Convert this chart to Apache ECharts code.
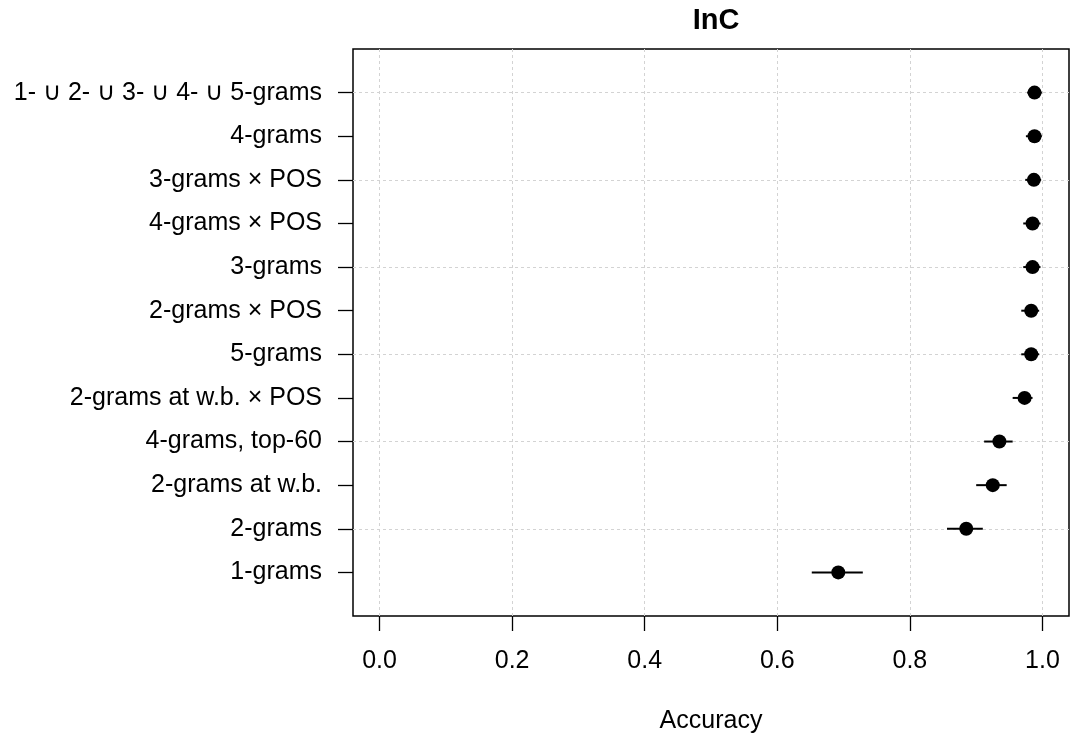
<!DOCTYPE html>
<html>
<head>
<meta charset="utf-8">
<script src="https://cdn.jsdelivr.net/npm/echarts@6/dist/echarts.min.js"></script>
<style>
  html, body { margin: 0; padding: 0; background: #fff; }
  #chart { width: 1071px; height: 735px; }
</style>
</head>
<body>
<div id="chart"></div>
<script>
// Feature sets, listed bottom to top
const featureSets = [
  '1-grams',
  '2-grams',
  '2-grams at w.b.',
  '4-grams, top-60',
  '2-grams at w.b. × POS',
  '5-grams',
  '2-grams × POS',
  '3-grams',
  '4-grams × POS',
  '3-grams × POS',
  '4-grams',
  '1- ∪ 2- ∪ 3- ∪ 4- ∪ 5-grams'
];
// Mean accuracy and interval bounds per feature set
const accuracy = [0.692, 0.885, 0.925, 0.935, 0.973, 0.983, 0.983, 0.985, 0.985, 0.987, 0.988, 0.988];
const lower    = [0.652, 0.856, 0.900, 0.912, 0.955, 0.968, 0.968, 0.971, 0.971, 0.974, 0.975, 0.977];
const upper    = [0.729, 0.910, 0.946, 0.955, 0.985, 0.995, 0.995, 0.997, 0.997, 0.998, 0.999, 0.999];
const xTicks = [0, 0.2, 0.4, 0.6, 0.8, 1.0];
const yGrid = [2, 4, 6, 8, 10, 12];

const FONT = "'Liberation Sans', Arial, Helvetica, sans-serif";
const positions = featureSets.map((_, i) => i + 1);

const chart = echarts.init(document.getElementById('chart'), null, { renderer: 'canvas' });

const gridLine = { show: true, lineStyle: { color: '#d3d3d3', width: 1, type: [3, 3] } };

chart.setOption({
  animation: false,
  backgroundColor: '#ffffff',
  title: {
    text: 'InC',
    left: 711,
    top: 1,
    textAlign: 'center',
    textStyle: { fontFamily: FONT, fontSize: 29, fontWeight: 'bold', color: '#000' }
  },
  grid: {
    left: 353, right: 2, top: 49, bottom: 119,
    outerBoundsMode: 'none',
    show: true, borderColor: '#000', borderWidth: 1.5, backgroundColor: 'transparent'
  },
  xAxis: {
    type: 'value',
    min: -0.04, max: 1.04,
    name: 'Accuracy',
    nameLocation: 'middle',
    nameGap: 93,
    nameTextStyle: { fontFamily: FONT, fontSize: 25, color: '#000' },
    axisLine: { show: false, onZero: false },
    axisTick: { show: true, length: 15, customValues: xTicks, lineStyle: { color: '#000', width: 1.3 } },
    axisLabel: {
      customValues: xTicks, margin: 33,
      fontFamily: FONT, fontSize: 25, color: '#000',
      formatter: v => v.toFixed(1)
    },
    splitLine: gridLine
  },
  yAxis: [
    {
      type: 'value',
      min: 0, max: 13,
      axisLine: { show: false, onZero: false },
      axisTick: { show: true, length: 15, customValues: positions, lineStyle: { color: '#000', width: 1.3 } },
      axisLabel: {
        customValues: positions, margin: 31,
        fontFamily: FONT, fontSize: 25, color: '#000',
        formatter: v => featureSets[Math.round(v) - 1] || ''
      },
      splitLine: { show: false }
    },
    {
      type: 'value',
      min: 0, max: 13,
      position: 'left',
      axisLine: { show: false, onZero: false },
      axisTick: { show: false, customValues: yGrid },
      axisLabel: { show: false, customValues: yGrid },
      splitLine: gridLine
    }
  ],
  series: [
    {
      type: 'custom',
      name: 'interval',
      data: positions.map((y, i) => [lower[i], upper[i], y]),
      encode: { x: [0, 1], y: 2 },
      renderItem: function (params, api) {
        const a = api.coord([api.value(0), api.value(2)]);
        const b = api.coord([api.value(1), api.value(2)]);
        return {
          type: 'line',
          shape: { x1: a[0], y1: a[1], x2: b[0], y2: b[1] },
          style: { stroke: '#000', lineWidth: 2 }
        };
      },
      z: 3
    },
    {
      type: 'scatter',
      name: 'accuracy',
      data: positions.map((y, i) => [accuracy[i], y]),
      symbol: 'circle',
      symbolSize: 14,
      itemStyle: { color: '#000', opacity: 1 },
      z: 4
    }
  ]
});
</script>
</body>
</html>
